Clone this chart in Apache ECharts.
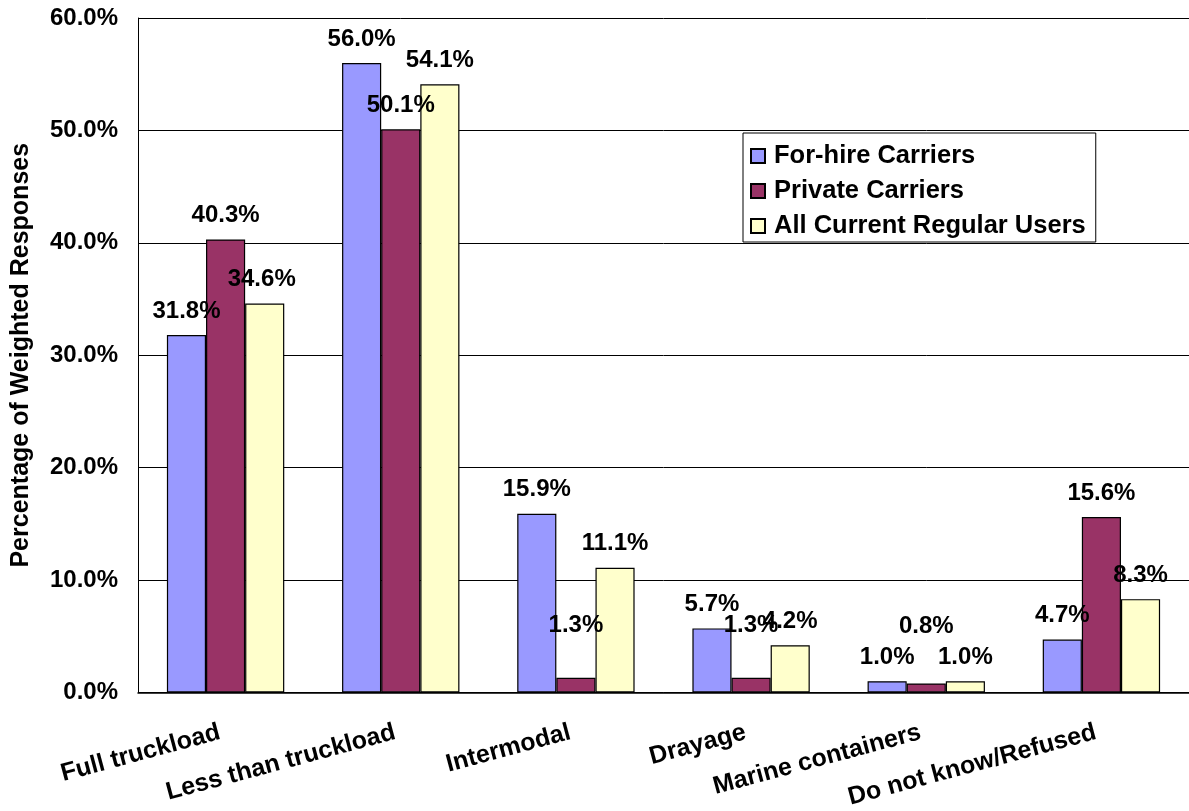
<!DOCTYPE html>
<html>
<head>
<meta charset="utf-8">
<script src="https://cdn.jsdelivr.net/npm/echarts@6/dist/echarts.min.js"></script>
<style>
html,body{margin:0;padding:0;background:#fff;}
#chart{width:1189px;height:811px;}
</style>
</head>
<body>
<div id="chart"></div>
<script>
const categories = ['Full truckload', 'Less than truckload', 'Intermodal', 'Drayage', 'Marine containers', 'Do not know/Refused'];
const seriesNames = ['For-hire Carriers', 'Private Carriers', 'All Current Regular Users'];
const forHire = [31.8, 56.0, 15.9, 5.7, 1.0, 4.7];
const privateCarriers = [40.3, 50.1, 1.3, 1.3, 0.8, 15.6];
const allUsers = [34.6, 54.1, 11.1, 4.2, 1.0, 8.3];
const yTicks = [0, 10, 20, 30, 40, 50, 60];

// label nudges (series index -> category index -> [dx, dy]), styling only
const labelNudges = {
  1: {2: [0, -28], 3: [0, -28], 4: [0, -33]},
  2: {0: [-3, 0]}
};
const colors = ['#9999FF', '#993366', '#FFFFCC'];
const FONT = 'Liberation Sans, Arial, sans-serif';

function makeData(values, si) {
  return values.map((v, ci) => {
    const n = (labelNudges[si] || {})[ci];
    return n ? {value: v, label: {offset: n}} : v;
  });
}

const allSeriesValues = [forHire, privateCarriers, allUsers];
const chart = echarts.init(document.getElementById('chart'));
chart.setOption({
  animation: false,
  textStyle: {fontFamily: FONT},
  grid: {left: 138, right: -6, top: 18, bottom: 115, containLabel: false},
  legend: {
    orient: 'vertical',
    left: 743,
    top: 133,
    itemWidth: 14,
    itemHeight: 14,
    itemGap: 9,
    padding: [10, 10, 3, 7],
    borderColor: '#000',
    borderWidth: 1,
    textStyle: {fontFamily: FONT, fontWeight: 'bold', fontSize: 25.5, color: '#000', padding: [0, 0, 0, 4]},
    data: seriesNames.map(n => ({name: n, icon: 'rect'}))
  },
  xAxis: {
    type: 'category',
    data: categories,
    axisLine: {lineStyle: {color: '#000', width: 1.5}},
    axisTick: {inside: true, length: 7, lineStyle: {color: '#000'}},
    axisLabel: {
      rotate: 15, margin: 38, fontFamily: FONT, fontWeight: 'bold', fontSize: 25, color: '#000',
      padding: [0, 6, 0, 0], interval: 0
    }
  },
  yAxis: {
    type: 'value',
    min: yTicks[0],
    max: yTicks[yTicks.length - 1],
    interval: 10,
    name: 'Percentage of Weighted Responses',
    nameLocation: 'middle',
    nameGap: 104,
    nameRotate: 90,
    nameTextStyle: {fontFamily: FONT, fontWeight: 'bold', fontSize: 25, color: '#000'},
    axisLine: {show: true, lineStyle: {color: '#000', width: 1}},
    axisTick: {show: false},
    axisLabel: {
      margin: 20, fontFamily: FONT, fontWeight: 'bold', fontSize: 24, color: '#000',
      formatter: v => v.toFixed(1) + '%'
    },
    splitLine: {lineStyle: {color: '#000', width: 1}}
  },
  series: allSeriesValues.map((vals, si) => ({
    name: seriesNames[si],
    type: 'bar',
    data: makeData(vals, si),
    barGap: '0%',
    barCategoryGap: '33%',
    itemStyle: {color: colors[si], borderColor: '#000', borderWidth: 1.2},
    label: {
      show: true, position: 'top', distance: 12,
      fontFamily: FONT, fontWeight: 'bold', fontSize: 24, color: '#000',
      formatter: p => Number(p.value).toFixed(1) + '%'
    }
  }))
});
</script>
</body>
</html>
